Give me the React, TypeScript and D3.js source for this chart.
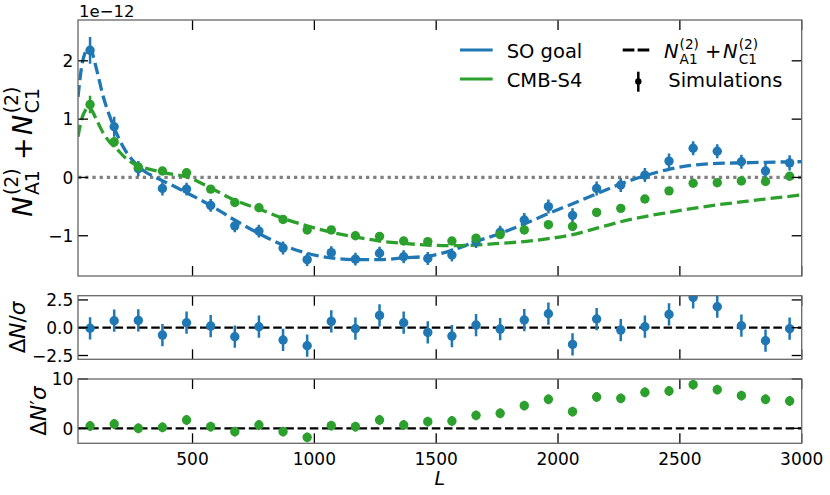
import React from "react";
import * as d3 from "d3";

// ---------- data ----------
const binL = [79.5, 178.5, 277.5, 376.5, 475.5, 574.5, 673.5, 772.5, 871.5, 970.5, 1069.5, 1168.5, 1267.5, 1366.5, 1465.5, 1564.5, 1663.5, 1762.5, 1861.5, 1960.5, 2059.5, 2158.5, 2257.5, 2356.5, 2455.5, 2554.5, 2653.5, 2752.5, 2851.5, 2950.5];

const soSim = [2.18, 0.87, 0.15, -0.19, -0.20, -0.48, -0.83, -0.92, -1.21, -1.41, -1.29, -1.40, -1.30, -1.36, -1.39, -1.33, -1.10, -0.94, -0.73, -0.50, -0.65, -0.19, -0.13, 0.04, 0.28, 0.50, 0.45, 0.27, 0.11, 0.25];
const soErr = [0.23, 0.17, 0.13, 0.12, 0.11, 0.11, 0.11, 0.11, 0.11, 0.11, 0.11, 0.11, 0.11, 0.11, 0.11, 0.11, 0.11, 0.11, 0.12, 0.12, 0.12, 0.12, 0.12, 0.12, 0.13, 0.12, 0.12, 0.12, 0.12, 0.13];
const s4Sim = [1.25, 0.61, 0.18, 0.11, 0.08, -0.20, -0.43, -0.52, -0.72, -0.90, -0.90, -1.00, -1.01, -1.09, -1.10, -1.09, -1.04, -0.98, -0.90, -0.81, -0.84, -0.60, -0.53, -0.37, -0.23, -0.10, -0.09, -0.06, -0.07, 0.02];
const s4Err = [0.15, 0.09, 0.06, 0.05, 0.05, 0.05, 0.05, 0.05, 0.05, 0.05, 0.05, 0.05, 0.05, 0.05, 0.05, 0.05, 0.05, 0.05, 0.05, 0.05, 0.05, 0.05, 0.05, 0.05, 0.05, 0.05, 0.05, 0.05, 0.05, 0.05];

const theoryL = [30, 45, 60, 72, 85, 107, 134, 161, 189, 216, 257, 298, 353, 410, 475, 574, 673, 772, 871, 970, 1069, 1168, 1267, 1366, 1465, 1564, 1663, 1762, 1860, 1960, 2060, 2159, 2257, 2357, 2455, 2554, 2654, 2752, 2851, 3000];
const soTheory = [1.38, 1.90, 2.15, 2.22, 2.17, 1.84, 1.38, 1.04, 0.75, 0.52, 0.28, 0.12, -0.01, -0.12, -0.26, -0.48, -0.73, -0.96, -1.16, -1.30, -1.38, -1.41, -1.41, -1.38, -1.35, -1.25, -1.10, -0.96, -0.80, -0.62, -0.45, -0.28, -0.11, 0.03, 0.14, 0.21, 0.24, 0.25, 0.26, 0.27];
const s4Theory = [0.70, 1.00, 1.15, 1.21, 1.16, 0.98, 0.76, 0.60, 0.49, 0.37, 0.24, 0.17, 0.11, 0.06, 0.01, -0.18, -0.39, -0.54, -0.70, -0.83, -0.94, -1.02, -1.09, -1.13, -1.16, -1.17, -1.16, -1.13, -1.10, -1.05, -0.98, -0.87, -0.76, -0.67, -0.60, -0.53, -0.47, -0.42, -0.37, -0.30];

const soDelta = [-0.05, 0.63, 0.66, -0.66, 0.45, 0.15, -0.81, 0.09, -1.10, -1.62, 0.57, -0.09, 1.11, 0.45, -0.42, -0.75, 0.24, -0.12, 0.69, 1.26, -1.50, 0.78, -0.21, 0.09, 1.20, 2.73, 1.89, 0.18, -1.17, -0.09];
const s4Delta = [0.47, 0.87, 0.0, 0.2, 1.68, 0.33, -0.68, 0.67, -0.68, -1.83, 0.54, 0.33, 1.68, 0.67, 1.35, 1.48, 2.63, 3.04, 4.6, 5.88, 3.38, 6.35, 6.08, 7.3, 7.57, 8.85, 7.84, 6.62, 5.88, 5.54];
const deltaErr = 1;

const xTicks = [500, 1000, 1500, 2000, 2500, 3000];
const topYTicks = [-1, 0, 1, 2];
const midYTicks = [-2.5, 0, 2.5];
const botYTicks = [0, 10];

const BLUE = "#1f77b4";
const GREEN = "#2ca02c";
const FONT = "DejaVu Sans";

// ---------- layout ----------
const X0 = 78, X1 = 801.7;
const x = d3.scaleLinear().domain([30, 3000]).range([X0, X1]);
const yTop = d3.scaleLinear().domain([-1.69, 2.70]).range([276, 20]);
const yMid = d3.scaleLinear().domain([-2.84, 2.88]).range([359.3, 295.7]);
const yBot = d3.scaleLinear().domain([-3.04, 10]).range([443.3, 379]);

const fmtTop = (v: number) => (v < 0 ? "\u2212" : "") + Math.abs(v).toString();
const fmtMid = (v: number) => (v < 0 ? "\u2212" : "") + Math.abs(v).toFixed(1);

function Frame({ y, ticks, fmt }: { y: d3.ScaleLinear<number, number>; ticks: number[]; fmt: (v: number) => string }) {
  const [yb, yt] = y.range();
  const TL = 10;
  return (
    <g>
      {xTicks.map((t) => (
        <g key={"x" + t}>
          <line x1={x(t)} x2={x(t)} y1={yb} y2={yb - TL} stroke="#000" strokeWidth={1.3} />
          <line x1={x(t)} x2={x(t)} y1={yt} y2={yt + TL} stroke="#000" strokeWidth={1.3} />
        </g>
      ))}
      {ticks.map((t) => (
        <g key={"y" + t}>
          <line x1={X0} x2={X0 + TL} y1={y(t)} y2={y(t)} stroke="#000" strokeWidth={1.3} />
          <line x1={X1} x2={X1 - TL} y1={y(t)} y2={y(t)} stroke="#000" strokeWidth={1.3} />
          <text x={73.3} y={y(t) + 6.2} textAnchor="end" fontSize={17} fontFamily={FONT}>{fmt(t)}</text>
        </g>
      ))}
      <rect x={X0} y={yt} width={X1 - X0} height={yb - yt} fill="none" stroke="#666" strokeWidth={1.3} />
    </g>
  );
}

function MathN({ fs, sub1, sub2 }: { fs: number; sub1: string; sub2: string }) {
  const ss = fs * 0.7;
  const up = -0.5 * fs, dn = 0.28 * fs;
  return (
    <g fontFamily={FONT}>
      <text x={0} y={0} fontSize={fs} fontStyle="italic">N</text>
      <text x={0.8 * fs} y={up} fontSize={ss}>(2)</text>
      <text x={0.8 * fs} y={dn} fontSize={ss}>{sub1}</text>
      <text x={2.1 * fs} y={0} fontSize={fs}>+</text>
      <text x={3.03 * fs} y={0} fontSize={fs} fontStyle="italic">N</text>
      <text x={3.83 * fs} y={up} fontSize={ss}>(2)</text>
      <text x={3.83 * fs} y={dn} fontSize={ss}>{sub2}</text>
    </g>
  );
}

function Points({ vals, errs, y, color, r = 4.7 }: { vals: number[]; errs: number[] | number; y: d3.ScaleLinear<number, number>; color: string; r?: number }) {
  return (
    <g>
      {vals.map((v, i) => {
        const e = Array.isArray(errs) ? errs[i] : errs;
        return (
          <g key={i}>
            <line x1={x(binL[i])} x2={x(binL[i])} y1={y(v - e)} y2={y(v + e)} stroke={color} strokeWidth={2.5} />
            <circle cx={x(binL[i])} cy={y(v)} r={r} fill={color} />
          </g>
        );
      })}
    </g>
  );
}

export default function App() {
  const line = (vals: number[]) =>
    d3.line<number>().x((_, i) => x(theoryL[i])).y((v) => yTop(v)).curve(d3.curveMonotoneX)(vals) || "";

  const clip = (id: string, y: d3.ScaleLinear<number, number>) => {
    const [yb, yt] = y.range();
    return (
      <clipPath id={id}>
        <rect x={X0} y={yt} width={X1 - X0} height={yb - yt} />
      </clipPath>
    );
  };

  return (
    <svg width={830} height={495} style={{ position: "absolute", left: 0, top: 0, background: "#fff" }} fontFamily={FONT}>
      <defs>
        {clip("cTop", yTop)}
        {clip("cMid", yMid)}
        {clip("cBot", yBot)}
      </defs>

      {/* top panel */}
      <g clipPath="url(#cTop)">
        <line x1={X0} x2={X1} y1={yTop(0)} y2={yTop(0)} stroke="#808080" strokeWidth={3.2} strokeDasharray="3.3,3.9" />
        <path d={line(soTheory)} fill="none" stroke={BLUE} strokeWidth={3.3} strokeDasharray="11.8,5.1" />
        <path d={line(s4Theory)} fill="none" stroke={GREEN} strokeWidth={3.3} strokeDasharray="11.8,5.1" />
        <Points vals={soSim} errs={soErr} y={yTop} color={BLUE} />
        <Points vals={s4Sim} errs={s4Err} y={yTop} color={GREEN} />
      </g>
      <Frame y={yTop} ticks={topYTicks} fmt={fmtTop} />
      <text x={79} y={17.3} fontSize={16.5}>1e−12</text>

      {/* legend */}
      <g>
        <line x1={460} x2={492.7} y1={50} y2={50} stroke={BLUE} strokeWidth={3} />
        <line x1={460} x2={492.7} y1={79} y2={79} stroke={GREEN} strokeWidth={3} />
        <text x={506.7} y={58.3} fontSize={19.5}>SO goal</text>
        <text x={506.7} y={87.3} fontSize={19.5}>CMB-S4</text>
        <line x1={622.7} x2={649.3} y1={50} y2={50} stroke="#000" strokeWidth={2.8} strokeDasharray="11.7,3.2" />
        <line x1={638.3} x2={638.3} y1={71.7} y2={91.7} stroke="#000" strokeWidth={2.5} />
        <circle cx={638.3} cy={81.5} r={3.2} fill="#000" />
        <g transform="translate(664,58.3)">
          <MathN fs={19.5} sub1="A1" sub2="C1" />
        </g>
        <text x={668.3} y={87.3} fontSize={19.5}>Simulations</text>
      </g>

      {/* y label top */}
      <g transform="translate(31.7,216.7) rotate(-90)">
        <MathN fs={27} sub1="A1" sub2="C1" />
      </g>

      {/* middle panel */}
      <g clipPath="url(#cMid)">
        <line x1={X0} x2={X1} y1={yMid(0)} y2={yMid(0)} stroke="#000" strokeWidth={2.2} strokeDasharray="8.5,3.7" />
        <Points vals={soDelta} errs={deltaErr} y={yMid} color={BLUE} />
      </g>
      <Frame y={yMid} ticks={midYTicks} fmt={fmtMid} />
      <text transform="translate(25,327.5) rotate(-90)" textAnchor="middle" fontSize={21.5}>
        <tspan>Δ</tspan><tspan fontStyle="italic">N</tspan><tspan>/</tspan><tspan fontStyle="italic">σ</tspan>
      </text>

      {/* bottom panel */}
      <g clipPath="url(#cBot)">
        <line x1={X0} x2={X1} y1={yBot(0)} y2={yBot(0)} stroke="#000" strokeWidth={2.2} strokeDasharray="8.5,3.7" />
        <Points vals={s4Delta} errs={deltaErr} y={yBot} color={GREEN} />
      </g>
      <Frame y={yBot} ticks={botYTicks} fmt={fmtTop} />
      <text transform="translate(46,411) rotate(-90)" textAnchor="middle" fontSize={21.5}>
        <tspan>Δ</tspan><tspan fontStyle="italic">N</tspan><tspan>′</tspan><tspan fontStyle="italic">σ</tspan>
      </text>

      {/* x tick labels */}
      {xTicks.map((t) => (
        <text key={t} x={x(t)} y={465} textAnchor="middle" fontSize={17}>{t}</text>
      ))}
      <text x={(X0 + X1) / 2} y={485} textAnchor="middle" fontSize={19} fontStyle="italic">L</text>
    </svg>
  );
}
